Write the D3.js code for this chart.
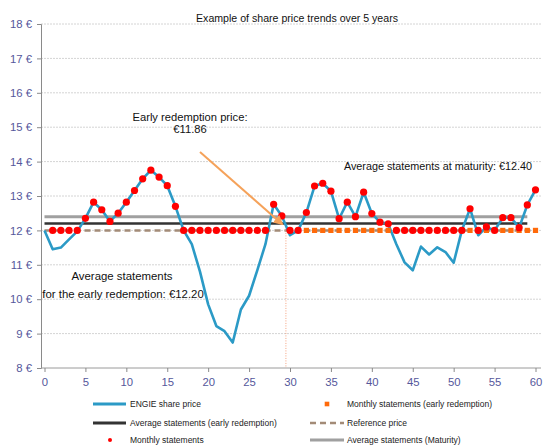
<!DOCTYPE html>
<html>
<head>
<meta charset="utf-8">
<script src="https://cdn.jsdelivr.net/npm/d3@7/dist/d3.min.js"></script>
<style>
  html, body { margin: 0; padding: 0; background: #fff; }
  svg { display: block; font-family: "Liberation Sans", Arial, sans-serif; }
</style>
</head>
<body>
<svg id="chart" width="545" height="445"></svg>
<script>
// ---- Data ----
const months = d3.range(0, 61);
const sharePrice = [12.0, 11.45, 11.5, 11.74, 11.97, 12.35, 12.82, 12.6, 12.26, 12.5,
  12.82, 13.16, 13.5, 13.75, 13.55, 13.3, 12.7, 12.0, 11.6, 10.8,
  9.85, 9.22, 9.07, 8.74, 9.7, 10.1, 10.84, 11.6, 12.76, 12.42,
  11.86, 12.0, 12.52, 13.29, 13.37, 13.14, 12.34, 12.82, 12.4, 13.11,
  12.49, 12.24, 12.19, 11.6, 11.07, 10.84, 11.53, 11.3, 11.51, 11.37,
  11.06, 12.0, 12.63, 11.86, 12.1, 12.0, 12.37, 12.37, 12.08, 12.74, 13.18];
const statementMonths = d3.range(1, 61);
const monthlyStatements = [12, 12, 12, 12, 12.35, 12.82, 12.6, 12.26, 12.5, 12.82,
  13.16, 13.5, 13.75, 13.55, 13.3, 12.7, 12, 12, 12, 12,
  12, 12, 12, 12, 12, 12, 12, 12.76, 12.42, 12,
  12, 12.52, 13.29, 13.37, 13.14, 12.34, 12.82, 12.4, 13.11, 12.49,
  12.24, 12.19, 12, 12, 12, 12, 12, 12, 12, 12,
  12, 12.63, 12, 12.1, 12, 12.37, 12.37, 12.08, 12.74, 13.18];
const earlyMonths = d3.range(30, 61);
const earlyStatements = [12, 12, 12, 12, 12, 12, 12, 12, 12, 12, 12, 12, 12, 12, 12, 12,
  12, 12, 12, 12, 12, 12, 12, 12, 12, 12, 12, 12, 12, 12, 12];
const avgEarly = 12.20;
const avgMaturity = 12.40;
const referencePrice = 12.00;
const avgLineMonths = [0, 59];
const referenceMonths = [0, 60];
const redemptionMonth = 29.5;
const yTicks = [8, 9, 10, 11, 12, 13, 14, 15, 16, 17, 18];
const xTicks = [0, 5, 10, 15, 20, 25, 30, 35, 40, 45, 50, 55, 60];
const titleText = "Example of share price trends over 5 years";
const legendItems = [
  { label: "ENGIE share price", type: "line", color: "#2B9AC6" },
  { label: "Monthly statements (early redemption)", type: "square", color: "#FF6A0A" },
  { label: "Average statements (early redemption)", type: "line", color: "#333333" },
  { label: "Reference price", type: "dash", color: "#A38B77" },
  { label: "Monthly statements", type: "dot", color: "#FF0000" },
  { label: "Average statements (Maturity)", type: "line", color: "#A0A0A0" }
];

// ---- Drawing ----
const svg = d3.select("#chart");
const x = d3.scaleLinear().domain([0, 60]).range([44.5, 535.5]);
const y = d3.scaleLinear().domain([8, 18]).range([368, 24]);
const axisX0 = 41, plotRight = 541;
const tickColor = "#55579B";

// gridlines
svg.append("g").selectAll("line").data(yTicks.filter(d => d > 8)).join("line")
  .attr("x1", axisX0).attr("x2", plotRight)
  .attr("y1", d => y(d)).attr("y2", d => y(d))
  .attr("stroke", "#d4d4d4").attr("stroke-width", 1).attr("stroke-dasharray", "2,1");

// y axis
const yAxis = d3.axisLeft(y).tickValues(yTicks).tickSize(4).tickFormat(d => d + " €");
const gy = svg.append("g").attr("transform", `translate(${axisX0},0)`).call(yAxis);
gy.select(".domain").attr("stroke", "#8a8a8a");
gy.selectAll(".tick line").attr("stroke", "#8a8a8a");
gy.selectAll(".tick text").attr("fill", tickColor).attr("font-size", "11.3px")
  .attr("font-family", "Liberation Sans, Arial, sans-serif").attr("x", -9);

// x axis
const xAxis = d3.axisBottom(x).tickValues(xTicks).tickSize(4).tickSizeOuter(0);
const gx = svg.append("g").attr("transform", `translate(0,${y(8)})`).call(xAxis);
gx.select(".domain").attr("d", `M${axisX0},0H${plotRight}`).attr("stroke", "#9a9a9a");
gx.selectAll(".tick line").attr("stroke", "#8a8a8a");
gx.selectAll(".tick text").attr("fill", tickColor).attr("font-size", "11.3px")
  .attr("font-family", "Liberation Sans, Arial, sans-serif").attr("y", 10);

// title
svg.append("text").attr("x", 297).attr("y", 22).attr("text-anchor", "middle")
  .attr("font-size", "10.6px").attr("fill", "#111").text(titleText);

// average / reference lines
const hline = (months2, v, color, w, dash) => {
  svg.append("line")
    .attr("x1", x(months2[0])).attr("x2", x(months2[1]))
    .attr("y1", y(v)).attr("y2", y(v))
    .attr("stroke", color).attr("stroke-width", w)
    .attr("stroke-dasharray", dash || null);
};
hline(avgLineMonths, avgMaturity, "#A0A0A0", 3);
hline(avgLineMonths, avgEarly, "#333333", 2.5);
hline(referenceMonths, referencePrice, "#A38B77", 2.5, "6,4");

// vertical dotted redemption line
svg.append("line")
  .attr("x1", x(redemptionMonth)).attr("x2", x(redemptionMonth))
  .attr("y1", y(referencePrice)).attr("y2", y(8))
  .attr("stroke", "#F4A07C").attr("stroke-width", 1).attr("stroke-dasharray", "1,1.5");

// share price line
const line = d3.line().x((d, i) => x(months[i])).y(d => y(d));
svg.append("path").datum(sharePrice)
  .attr("d", line).attr("fill", "none")
  .attr("stroke", "#2B9AC6").attr("stroke-width", 2.6).attr("stroke-linejoin", "round");

// early redemption statements (orange squares)
svg.append("g").selectAll("rect").data(earlyStatements).join("rect")
  .attr("x", (d, i) => x(earlyMonths[i]) - 2.6).attr("y", d => y(d) - 2.6)
  .attr("width", 5.2).attr("height", 5.2).attr("fill", "#FF6A0A");

// monthly statements (red dots)
svg.append("g").selectAll("circle").data(monthlyStatements).join("circle")
  .attr("cx", (d, i) => x(statementMonths[i])).attr("cy", d => y(d))
  .attr("r", 3.6).attr("fill", "#FF0000");

// arrow annotation
const defs = svg.append("defs");
defs.append("marker").attr("id", "arrowHead").attr("viewBox", "0 0 10 10")
  .attr("refX", 8).attr("refY", 5).attr("markerWidth", 5).attr("markerHeight", 5)
  .attr("orient", "auto")
  .append("path").attr("d", "M0,0L10,5L0,10z").attr("fill", "#F5A25A");
svg.append("line").attr("x1", 200).attr("y1", 152).attr("x2", 282).attr("y2", 224)
  .attr("stroke", "#F5A25A").attr("stroke-width", 2).attr("marker-end", "url(#arrowHead)");

// annotation texts
const ann = (tx, ty, txt, size) => svg.append("text").attr("x", tx).attr("y", ty)
  .attr("text-anchor", "middle").attr("font-size", size).attr("fill", "#111").text(txt);
ann(190, 121, "Early redemption price:", "11.2px");
ann(190, 133, "€11.86", "11.2px");
ann(438, 170, "Average statements at maturity: €12.40", "10.8px");
ann(122, 280, "Average statements", "11.4px");
ann(123, 298, "for the early redemption: €12.20", "11.4px");

// legend
const legendRows = [404, 423, 440];
const colX = [
  { sym0: 93, sym1: 126, dot: 110, text: 130 },
  { sym0: 310, sym1: 344, dot: 327, text: 347 }
];
legendItems.forEach((item, i) => {
  const row = Math.floor(i / 2), col = i % 2;
  const ly = legendRows[row], c = colX[col];
  const g = svg.append("g");
  if (item.type === "line") {
    g.append("line").attr("x1", c.sym0).attr("x2", c.sym1).attr("y1", ly).attr("y2", ly)
      .attr("stroke", item.color).attr("stroke-width", 3);
  } else if (item.type === "dash") {
    g.append("line").attr("x1", c.sym0).attr("x2", c.sym1).attr("y1", ly).attr("y2", ly)
      .attr("stroke", item.color).attr("stroke-width", 2.5).attr("stroke-dasharray", "6,4");
  } else if (item.type === "square") {
    g.append("rect").attr("x", c.dot - 2.3).attr("y", ly - 2.3).attr("width", 4.6).attr("height", 4.6)
      .attr("fill", item.color);
  } else {
    g.append("circle").attr("cx", c.dot).attr("cy", ly).attr("r", 2).attr("fill", item.color);
  }
  g.append("text").attr("x", c.text).attr("y", ly + 3).attr("font-size", "8.5px")
    .attr("fill", "#222").text(item.label);
});
</script>
</body>
</html>
